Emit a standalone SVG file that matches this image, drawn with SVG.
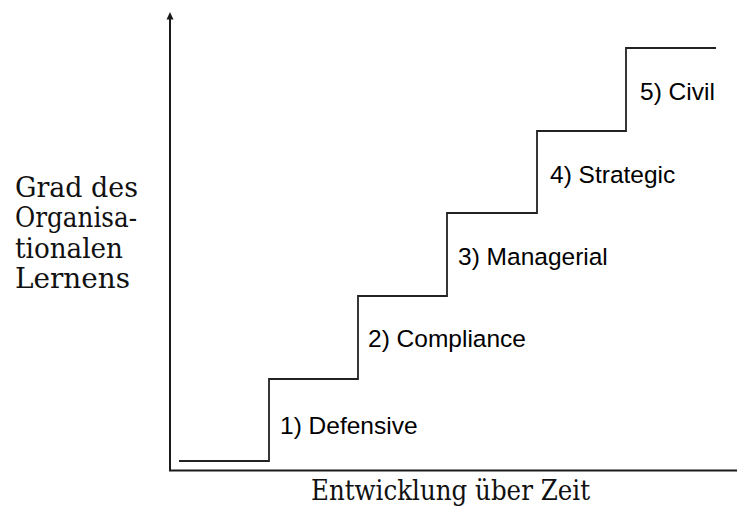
<svg xmlns="http://www.w3.org/2000/svg" width="737" height="507" viewBox="0 0 737 507">
<style>
.ax{stroke:#1a1a1a;stroke-width:2;fill:none}
.st{stroke:#222;stroke-width:1.8;fill:none}
.lbl{font-family:"Liberation Sans",Arial,sans-serif;font-size:24.5px;fill:#000}
.ser{font-family:"DejaVu Serif","Liberation Serif",serif;font-size:28px;fill:#111}
</style>
<g id="connectors">
<path class="ax" d="M170,470.5 L170,19"/>
<path d="M170,12 L173.5,19.5 L166.5,19.5 Z" fill="#1a1a1a"/>
<path class="ax" d="M169,470.5 L737,470.5"/>
<path class="st" d="M179,461 H269 V379 H358 V296 H447 V213 H537 V131 H626 V48 H716"/>
</g>
<g id="step1"><text class="lbl" x="280" y="434">1) Defensive</text></g>
<g id="step2"><text class="lbl" x="368" y="347">2) Compliance</text></g>
<g id="step3"><text class="lbl" x="458" y="265">3) Managerial</text></g>
<g id="step4"><text class="lbl" x="550" y="183">4) Strategic</text></g>
<g id="step5"><text class="lbl" x="640" y="100">5) Civil</text></g>
<g id="ylabel">
<text class="ser" x="15" y="197" textLength="123" lengthAdjust="spacingAndGlyphs">Grad des</text>
<text class="ser" x="15" y="227" textLength="122" lengthAdjust="spacingAndGlyphs">Organisa-</text>
<text class="ser" x="15" y="258" textLength="108" lengthAdjust="spacingAndGlyphs">tionalen</text>
<text class="ser" x="15" y="288" textLength="115" lengthAdjust="spacingAndGlyphs">Lernens</text>
</g>
<g id="xlabel">
<text class="ser" x="311" y="500" textLength="279" lengthAdjust="spacingAndGlyphs">Entwicklung über Zeit</text>
</g>
</svg>
